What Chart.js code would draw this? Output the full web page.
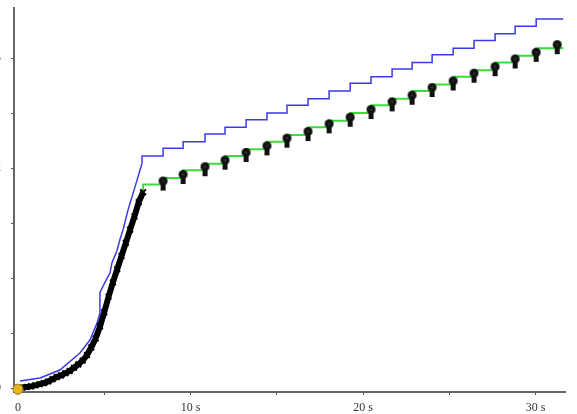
<!DOCTYPE html>
<html>
<head>
<meta charset="utf-8">
<script src="https://cdn.jsdelivr.net/npm/chart.js@4.4.0/dist/chart.umd.min.js"></script>
<style>
  html, body { margin: 0; padding: 0; background: #fff; overflow: hidden; }
  #wrap { width: 577px; height: 414px; overflow: hidden; position: relative; }
  #c { position: absolute; left: -20px; top: 0; }
</style>
</head>
<body>
<div id="wrap"><canvas id="c" width="597" height="414"></canvas></div>
<script>
// valores
const curveT = [0, 0.25, 0.5, 0.75, 1, 1.25, 1.5, 1.75, 2, 2.25, 2.5, 2.75, 3, 3.25, 3.5, 3.75, 4, 4.25, 4.5, 4.75, 5, 5.25, 5.5, 5.75, 6, 6.25, 6.5, 6.75, 7, 7.25];
const curveV = [0, 0.005, 0.01, 0.015, 0.025, 0.035, 0.045, 0.06, 0.08, 0.1, 0.115, 0.135, 0.155, 0.185, 0.215, 0.25, 0.3, 0.37, 0.45, 0.56, 0.69, 0.83, 0.96, 1.08, 1.2, 1.32, 1.44, 1.56, 1.69, 1.78];

const blueRiseT = [0.12, 1.28, 2.43, 3.59, 4.17, 4.58, 4.75, 4.75, 5.04, 5.33, 5.45, 5.74, 5.91, 6.09, 6.38, 6.61, 6.9, 7.07, 7.19];
const blueRiseV = [0.064, 0.091, 0.164, 0.318, 0.436, 0.59, 0.68, 0.87, 0.96, 1.045, 1.14, 1.25, 1.35, 1.44, 1.62, 1.74, 1.89, 1.98, 2.045];

const stepT  = [8.41, 9.57, 10.84, 12.0, 13.22, 14.43, 15.59, 16.81, 18.03, 19.25, 20.46, 21.68, 22.84, 24.0, 25.22, 26.43, 27.65, 28.81, 30.03, 31.25];
const greenV = [1.85, 1.91, 1.98, 2.04, 2.11, 2.17, 2.24, 2.30, 2.37, 2.43, 2.50, 2.57, 2.63, 2.70, 2.76, 2.83, 2.89, 2.96, 3.02, 3.09];
const blueV  = [2.11, 2.18, 2.24, 2.31, 2.37, 2.44, 2.50, 2.57, 2.63, 2.70, 2.77, 2.83, 2.90, 2.96, 3.03, 3.09, 3.16, 3.22, 3.29, 3.355];
const endT = 31.6;

const xTicks = [0, 5, 10, 15, 20, 25, 30];
const xLabels = { 0: '0', 10: '10 s', 20: '20 s', 30: '30 s' };
const yTicks = [0, 0.5, 1, 1.5, 2, 2.5, 3];
const yLabels = { 0: '0', 1: '1', 2: '2', 3: '3' };

// icono de flecha para los saltos
function arrowIcon() {
  const cv = document.createElement('canvas');
  cv.width = 11; cv.height = 18;
  const g = cv.getContext('2d');
  g.fillStyle = '#111';
  g.fillRect(3, 6, 5, 9);
  g.beginPath(); g.arc(5.5, 5.5, 4.5, 0, Math.PI * 2); g.fill();
  g.fillStyle = '#444';
  g.beginPath(); g.arc(5.5, 5.5, 1, 0, Math.PI * 2); g.fill();
  return cv;
}
const arrow = arrowIcon();

const pts = (xs, ys) => xs.map((x, i) => ({ x, y: ys[i] }));
const last = a => a[a.length - 1];

const greenData = [{ x: last(curveT), y: last(curveV) }, ...pts(stepT, greenV), { x: endT, y: last(greenV) }];
const blueStepData = [{ x: last(blueRiseT), y: last(blueRiseV) }, ...pts(stepT, blueV), { x: endT, y: last(blueV) }];

const serif = { family: "'Liberation Serif', 'DejaVu Serif', serif", size: 12 };

new Chart(document.getElementById('c'), {
  type: 'scatter',
  data: {
    datasets: [
      { data: [{ x: 0, y: -0.01 }], pointRadius: 5, backgroundColor: '#e6b422', borderColor: '#a47a10', borderWidth: 1, showLine: false, clip: false },
      { data: pts(stepT, greenV), pointStyle: arrow, showLine: false },
      { data: pts(curveT, curveV), showLine: true, borderColor: '#000', borderWidth: 6, pointStyle: 'crossRot', pointRadius: 4, pointBorderWidth: 2, pointBorderColor: '#000', backgroundColor: '#000' },
      { data: greenData, showLine: true, stepped: 'after', borderColor: '#3ddc3d', borderWidth: 2, pointRadius: 0 },
      { data: pts(blueRiseT, blueRiseV), showLine: true, borderColor: '#3a3ae6', borderWidth: 1.5, pointRadius: 0 },
      { data: blueStepData, showLine: true, stepped: 'after', borderColor: '#3a3ae6', borderWidth: 1.5, pointRadius: 0 }
    ]
  },
  options: {
    responsive: false,
    animation: false,
    layout: { padding: { top: 8, right: 12, left: 0, bottom: 0 } },
    plugins: { legend: { display: false }, tooltip: { enabled: false } },
    scales: {
      x: {
        type: 'linear', min: -0.23, max: 31.7,
        afterFit: s => { s.height = 22; s.paddingLeft = 0; s.paddingRight = 0; },
        afterBuildTicks: s => { s.ticks = xTicks.map(v => ({ value: v })); },
        border: { color: '#666', width: 2 },
        grid: { drawOnChartArea: false, color: '#555', tickLength: 3 },
        ticks: { font: serif, color: '#333', padding: 6, maxRotation: 0, autoSkip: false, callback: v => xLabels[v] ?? '' }
      },
      y: {
        type: 'linear', min: -0.036, max: 3.455,
        afterFit: s => { s.width = 34; s.paddingTop = 0; s.paddingBottom = 0; },
        afterBuildTicks: s => { s.ticks = yTicks.map(v => ({ value: v })); },
        border: { color: '#666', width: 2 },
        grid: { drawOnChartArea: false, color: '#555', tickLength: 3 },
        ticks: { font: serif, color: '#333', padding: 10, autoSkip: false, callback: v => yLabels[v] ?? '' }
      }
    }
  }
});
</script>
</body>
</html>
